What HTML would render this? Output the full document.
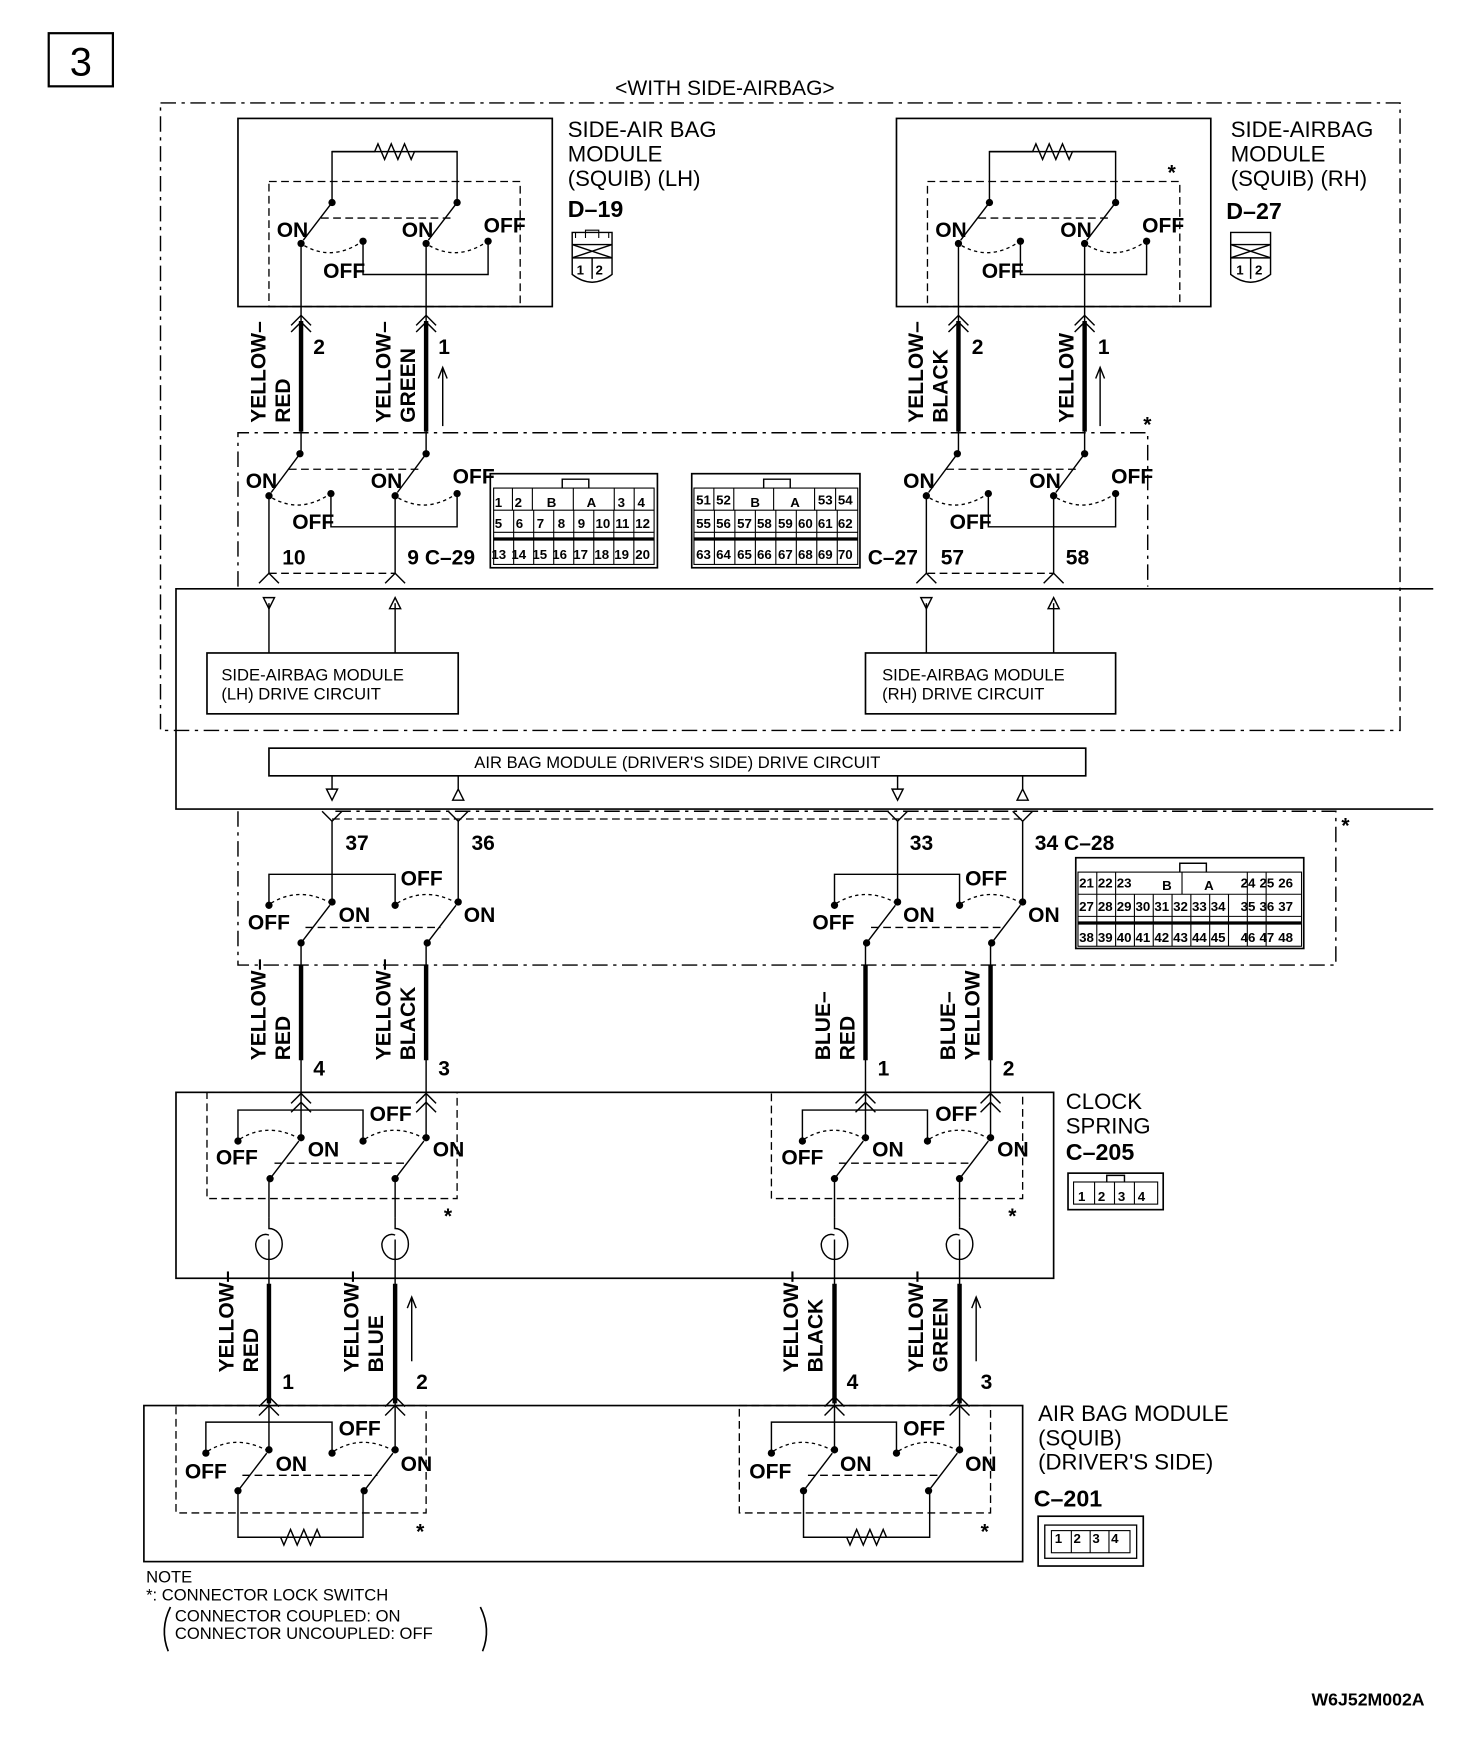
<!DOCTYPE html>
<html><head><meta charset="utf-8"><style>
html,body{margin:0;padding:0;background:#fff}
svg{display:block}
text{font-family:"Liberation Sans",sans-serif;fill:#000}
.c{font-family:"Liberation Sans",sans-serif;font-weight:bold}
</style></head><body>
<svg id="s" width="1472" height="1742" viewBox="0 0 1330 1574" xmlns="http://www.w3.org/2000/svg">
<g id="g" stroke="#000" fill="none" stroke-width="1.3"></g>
<g id="t">
<rect x="44" y="30" width="58" height="48" fill="none" stroke="#000" stroke-width="2"/>
<text x="73" y="68" font-size="36" text-anchor="middle">3</text>
<text x="655" y="86" font-size="19" text-anchor="middle">&lt;WITH SIDE-AIRBAG&gt;</text>
<text x="513" y="124" font-size="20">SIDE-AIR BAG</text>
<text x="513" y="146" font-size="20">MODULE</text>
<text x="513" y="168" font-size="20">(SQUIB) (LH)</text>
<text x="513" y="196" font-size="21" class="c">D–19</text>
<text x="1112" y="124" font-size="20">SIDE-AIRBAG</text>
<text x="1112" y="146" font-size="20">MODULE</text>
<text x="1112" y="168" font-size="20">(SQUIB) (RH)</text>
<text x="1108" y="198" font-size="21" class="c">D–27</text>
<text x="963" y="1002" font-size="20">CLOCK</text>
<text x="963" y="1024" font-size="20">SPRING</text>
<text x="963" y="1048" font-size="21" class="c">C–205</text>
<text x="938" y="1284" font-size="20">AIR BAG MODULE</text>
<text x="938" y="1306" font-size="20">(SQUIB)</text>
<text x="938" y="1328" font-size="20">(DRIVER'S SIDE)</text>
<text x="934" y="1361" font-size="21" class="c">C–201</text>
<text x="200" y="615" font-size="15">SIDE-AIRBAG MODULE</text>
<text x="200" y="632" font-size="15">(LH) DRIVE CIRCUIT</text>
<text x="797" y="615" font-size="15">SIDE-AIRBAG MODULE</text>
<text x="797" y="632" font-size="15">(RH) DRIVE CIRCUIT</text>
<text x="612" y="694" font-size="15" text-anchor="middle">AIR BAG MODULE (DRIVER'S SIDE) DRIVE CIRCUIT</text>
<text x="132" y="1430" font-size="15">NOTE</text>
<text x="132" y="1446" font-size="15">*: CONNECTOR LOCK SWITCH</text>
<text x="158" y="1465" font-size="15">CONNECTOR COUPLED: ON</text>
<text x="158" y="1481" font-size="15">CONNECTOR UNCOUPLED: OFF</text>
<text x="1185" y="1541" font-size="16" class="c">W6J52M002A</text>
<g class="c" font-size="19">
<text x="250" y="214">ON</text><text x="363" y="214">ON</text><text x="437" y="210">OFF</text><text x="292" y="251">OFF</text>
<text x="845" y="214">ON</text><text x="958" y="214">ON</text><text x="1032" y="210">OFF</text><text x="887" y="251">OFF</text>
<text x="222" y="441">ON</text><text x="335" y="441">ON</text><text x="409" y="437">OFF</text><text x="264" y="478">OFF</text>
<text x="816" y="441">ON</text><text x="930" y="441">ON</text><text x="1004" y="437">OFF</text><text x="858" y="478">OFF</text>
<text x="255" y="510">10</text><text x="368" y="510">9 C–29</text>
<text x="784" y="510">C–27</text><text x="850" y="510">57</text><text x="963" y="510">58</text>
<text x="312" y="768">37</text><text x="426" y="768">36</text><text x="822" y="768">33</text><text x="935" y="768">34 C–28</text>
<text x="224" y="840">OFF</text><text x="306" y="833">ON</text><text x="362" y="800">OFF</text><text x="419" y="833">ON</text>
<text x="734" y="840">OFF</text><text x="816" y="833">ON</text><text x="872" y="800">OFF</text><text x="929" y="833">ON</text>
<text x="195" y="1052">OFF</text><text x="278" y="1045">ON</text><text x="334" y="1013">OFF</text><text x="391" y="1045">ON</text>
<text x="706" y="1052">OFF</text><text x="788" y="1045">ON</text><text x="845" y="1013">OFF</text><text x="901" y="1045">ON</text>
<text x="167" y="1336">OFF</text><text x="249" y="1329">ON</text><text x="306" y="1297">OFF</text><text x="362" y="1329">ON</text>
<text x="677" y="1336">OFF</text><text x="759" y="1329">ON</text><text x="816" y="1297">OFF</text><text x="872" y="1329">ON</text>
<text x="283" y="320">2</text><text x="396" y="320">1</text><text x="878" y="320">2</text><text x="992" y="320">1</text>
<text x="283" y="972">4</text><text x="396" y="972">3</text><text x="793" y="972">1</text><text x="906" y="972">2</text>
<text x="255" y="1255">1</text><text x="376" y="1255">2</text><text x="765" y="1255">4</text><text x="886" y="1255">3</text>
<text x="1055" y="162">*</text><text x="1033" y="390">*</text><text x="1212" y="752">*</text>
<text x="401" y="1105">*</text><text x="911" y="1105">*</text><text x="376" y="1390">*</text><text x="886" y="1390">*</text>
</g>
<g class="c" font-size="19">
<text transform="translate(240,382) rotate(-90)">YELLOW–</text><text transform="translate(240,382) rotate(-90)" y="22">RED</text>
<text transform="translate(353,382) rotate(-90)">YELLOW–</text><text transform="translate(353,382) rotate(-90)" y="22">GREEN</text>
<text transform="translate(834,382) rotate(-90)">YELLOW–</text><text transform="translate(834,382) rotate(-90)" y="22">BLACK</text>
<text transform="translate(970,382) rotate(-90)">YELLOW</text>
<text transform="translate(240,958) rotate(-90)">YELLOW–</text><text transform="translate(240,958) rotate(-90)" y="22">RED</text>
<text transform="translate(353,958) rotate(-90)">YELLOW–</text><text transform="translate(353,958) rotate(-90)" y="22">BLACK</text>
<text transform="translate(750,958) rotate(-90)">BLUE–</text><text transform="translate(750,958) rotate(-90)" y="22">RED</text>
<text transform="translate(863,958) rotate(-90)">BLUE–</text><text transform="translate(863,958) rotate(-90)" y="22">YELLOW</text>
<text transform="translate(211,1240) rotate(-90)">YELLOW–</text><text transform="translate(211,1240) rotate(-90)" y="22">RED</text>
<text transform="translate(324,1240) rotate(-90)">YELLOW–</text><text transform="translate(324,1240) rotate(-90)" y="22">BLUE</text>
<text transform="translate(721,1240) rotate(-90)">YELLOW–</text><text transform="translate(721,1240) rotate(-90)" y="22">BLACK</text>
<text transform="translate(834,1240) rotate(-90)">YELLOW–</text><text transform="translate(834,1240) rotate(-90)" y="22">GREEN</text>
</g>
<g class="c" font-size="12" id="pins">
<text x="447" y="458">1</text><text x="465" y="458">2</text><text x="494" y="458">B</text><text x="530" y="458">A</text><text x="558" y="458">3</text><text x="576" y="458">4</text>
<text x="447" y="477">5</text><text x="466" y="477">6</text><text x="485" y="477">7</text><text x="504" y="477">8</text><text x="522" y="477">9</text><text x="538" y="477">10</text><text x="556" y="477">11</text><text x="574" y="477">12</text>
<text x="444" y="505">13</text><text x="462" y="505">14</text><text x="481" y="505">15</text><text x="499" y="505">16</text><text x="518" y="505">17</text><text x="537" y="505">18</text><text x="555" y="505">19</text><text x="574" y="505">20</text>
<text x="629" y="456">51</text><text x="647" y="456">52</text><text x="678" y="458">B</text><text x="714" y="458">A</text><text x="739" y="456">53</text><text x="757" y="456">54</text>
<text x="629" y="477">55</text><text x="647" y="477">56</text><text x="666" y="477">57</text><text x="684" y="477">58</text><text x="703" y="477">59</text><text x="721" y="477">60</text><text x="739" y="477">61</text><text x="757" y="477">62</text>
<text x="629" y="505">63</text><text x="647" y="505">64</text><text x="666" y="505">65</text><text x="684" y="505">66</text><text x="703" y="505">67</text><text x="721" y="505">68</text><text x="739" y="505">69</text><text x="757" y="505">70</text>
<text x="975" y="802">21</text><text x="992" y="802">22</text><text x="1009" y="802">23</text><text x="1050" y="804">B</text><text x="1088" y="804">A</text><text x="1121" y="802">24</text><text x="1138" y="802">25</text><text x="1155" y="802">26</text>
<text x="975" y="823">27</text><text x="992" y="823">28</text><text x="1009" y="823">29</text><text x="1026" y="823">30</text><text x="1043" y="823">31</text><text x="1060" y="823">32</text><text x="1077" y="823">33</text><text x="1094" y="823">34</text><text x="1121" y="823">35</text><text x="1138" y="823">36</text><text x="1155" y="823">37</text>
<text x="975" y="851">38</text><text x="992" y="851">39</text><text x="1009" y="851">40</text><text x="1026" y="851">41</text><text x="1043" y="851">42</text><text x="1060" y="851">43</text><text x="1077" y="851">44</text><text x="1094" y="851">45</text><text x="1121" y="851">46</text><text x="1138" y="851">47</text><text x="1155" y="851">48</text>
<text x="521" y="248">1</text><text x="538" y="248">2</text><text x="1117" y="248">1</text><text x="1134" y="248">2</text>
<text x="974" y="1085">1</text><text x="992" y="1085">2</text><text x="1010" y="1085">3</text><text x="1028" y="1085">4</text>
<text x="953" y="1394">1</text><text x="970" y="1394">2</text><text x="987" y="1394">3</text><text x="1004" y="1394">4</text>
</g>
</g>
<script>
const g=document.getElementById('g');const NS='http://www.w3.org/2000/svg';
function el(n,a){const e=document.createElementNS(NS,n);for(const k in a)e.setAttribute(k,a[k]);g.appendChild(e);return e;}
function L(x1,y1,x2,y2,w,d){return el('line',{x1,y1,x2,y2,'stroke-width':w||1.3,'stroke-dasharray':d||'none'});}
function R(x,y,w,h,sw,d){return el('rect',{x,y,width:w,height:h,'stroke-width':sw||1.3,'stroke-dasharray':d||'none'});}
function P(d,sw,da){return el('path',{d,'stroke-width':sw||1.3,'stroke-dasharray':da||'none'});}
function dot(x,y){el('circle',{cx:x,cy:y,r:3.3,fill:'#000',stroke:'none'});}
const DD='14 5 3 5', DS='7 4';
function up(a,b,yt,yb){
 [a,b].forEach(x=>{dot(x+28,yt);dot(x,yb);L(x+28,yt,x+2,yb-3,1.3);dot(x+56,yb-2);
  P(`M${x+3} ${yb+2} Q${x+28} ${yb+16} ${x+54} ${yb-1}`,1.2,'3 3');});
 L(a+18,yt+14,b+22,yt+14,1.2,DS);
 P(`M${a+56} ${yb-2} V${yb+28} H${b+56} V${yb-2}`);
}
function lo(a,b,yt,yb){
 [a,b].forEach(x=>{dot(x,yt);dot(x-28,yb);L(x-28,yb,x-2,yt+3,1.3);dot(x-57,yt+3);
  P(`M${x-55} ${yt+1} Q${x-30} ${yt-14} ${x-3} ${yt}`,1.2,'3 3');});
 L(a-24,yb-14,b-16,yb-14,1.2,DS);
 P(`M${a-57} ${yt+3} V${yt-25} H${b-57} V${yt+3}`);
}
function chevUp(x,y){P(`M${x-9} ${y+9} L${x} ${y} L${x+9} ${y+9}`);}
function chevDn(x,y){P(`M${x-9} ${y-9} L${x} ${y} L${x+9} ${y-9}`);}
function triDn(x,y){P(`M${x-5} ${y-5} H${x+5} L${x} ${y+5}Z`);}
function triUp(x,y){P(`M${x-5} ${y+5} H${x+5} L${x} ${y-5}Z`);}
function resistor(x1,x2,y,up){const m=(x1+x2)/2,s=up?-1:1;let d=`M${x1} ${y} H${m-18}`;for(let i=0;i<6;i++)d+=` L${m-15+i*6} ${y+(i%2?7:-7)*s*-1}`;d+=` L${m+18} ${y} H${x2}`;P(d);}
function coil(x,y){P(`M${x} ${y-20} V${y-10} a12 14 0 1 1 -12 14 a9 10 0 0 1 12 -8`);}
R(145,93,1120,567,1.3,DD);
R(215,107,284,170,1.5);R(243,164,227,113,1.2,DS);
R(810,107,284,170,1.5);R(838,164,228,113,1.2,DS);
P('M215 530 V391 H1037 V530',1.3,DD);
L(243,518,357,518,1.2,DS);L(838,518,952,518,1.2,DS);
P('M1295 532 H159 V731 H1295',1.5);
R(187,590,227,55,1.5);R(782,590,226,55,1.5);R(243,676,738,25,1.5);
P('M215 733 V872 H1207 V733 H300',1.3,DD);
L(300,740,924,740,1.2,DS);
R(159,987,793,168,1.5);R(187,987,226,96,1.2,DS);R(697,987,227,96,1.2,DS);
R(130,1270,794,141,1.5);R(159,1270,226,97,1.2,DS);R(668,1270,227,97,1.2,DS);
[[272,385],[866,980]].forEach(([a,b])=>{
 up(a,b,183,220);P(`M${a+28} 183 V137 H${b+28} V183`);resistor(a+28,b+28,137,true);
 L(a,220,a,410);L(b,220,b,410);L(a,290,a,390,4);L(b,290,b,390,4);
 chevUp(a,285);chevUp(a,291);chevUp(b,285);chevUp(b,291);
 up(a-29,b-28,410,448);L(a-29,448,a-29,518);L(b-28,448,b-28,518);
 chevUp(a-29,518);chevUp(b-28,518);
 L(a-29,545,a-29,590);L(b-28,545,b-28,590);
 triDn(a-29,545);triUp(b-28,545);
});
L(400,385,400,332);P('M396 342 L400 332 L404 342');
L(994,385,994,332);P('M990 342 L994 332 L998 342');
[300,414,811,924].forEach((x,i)=>{L(x,701,x,713);i%2?triUp(x,718):triDn(x,718);chevDn(x,742);L(x,742,x,815);});
lo(300,414,815,852);lo(811,924,815,852);
[272,385,782,895].forEach(x=>{L(x,852,x,1028);L(x,872,x,958,4);chevUp(x,988);chevUp(x,996);});
lo(272,385,1028,1065);lo(782,895,1028,1065);
[243,357,754,867].forEach(x=>{L(x,1065,x,1100);coil(x,1120);L(x,1120,x,1310);L(x,1160,x,1268,4);chevUp(x,1262);chevUp(x,1270);});
L(372,1230,372,1172);P('M368 1182 L372 1172 L376 1182');
L(882,1230,882,1172);P('M878 1182 L882 1172 L886 1182');
lo(243,357,1310,1347);lo(754,867,1310,1347);
[[215,328],[726,840]].forEach(([a,b])=>{P(`M${a} 1347 V1389 H${b} V1347`);resistor(a,b,1389,false);});
R(443,428,151,85,1.5);R(446,441,145,69,1);
[463,481,518,555,573].forEach(x=>L(x,441,x,461,1));[461,481].forEach(y=>L(446,y,591,y,1));
for(let i=1;i<8;i++){L(446+i*18.1,461,446+i*18.1,510,1);}
L(446,487,591,487,3);P('M508 441 V433 H532 V441');
R(625,428,152,85,1.5);R(627,441,148,69,1);
[645,663,699,736,755].forEach(x=>L(x,441,x,461,1));[461,481].forEach(y=>L(627,y,775,y,1));
for(let i=1;i<8;i++){L(627+i*18.5,461,627+i*18.5,510,1);}
L(627,487,775,487,3);P('M690 441 V433 H714 V441');
R(972,775,206,82,1.5);R(974,788,202,67,1);
[808,828].forEach(y=>L(974,y,1176,y,1));
for(let i=1;i<11;i++){if(i<3||i>8)L(974+i*17,788,974+i*17,855,1);else L(974+i*17,808,974+i*17,855,1);}
L(1068,788,1068,808,1);L(974,834,1176,834,3);P('M1066 788 V780 H1090 V788');
P('M517 210 H553 V248 Q535 262 517 248Z');L(517,233,553,233);L(517,221,553,233);L(553,221,517,233);L(535,233,535,252);P('M520 215 V210 M529 215 V208 H541 V215 M550 215 V210',1);L(517,221,553,221);
P('M1112 210 H1148 V248 Q1130 262 1112 248Z');L(1112,233,1148,233);L(1112,221,1148,233);L(1148,221,1112,233);L(1130,233,1130,252);L(1112,221,1148,221);
R(965,1060,86,33,1.5);R(970,1068,76,20,1);[989,1007,1025].forEach(x=>L(x,1068,x,1088,1));P('M1000 1068 V1062 H1016 V1068');
R(938,1370,95,45,1.5);R(944,1378,83,30,1.2);R(950,1383,71,20,1);[968,985,1002].forEach(x=>L(x,1383,x,1403,1));
P('M154 1452 Q144 1472 152 1492',1.5);P('M434 1452 Q444 1472 436 1492',1.5);
</script>
</svg>
</body></html>
